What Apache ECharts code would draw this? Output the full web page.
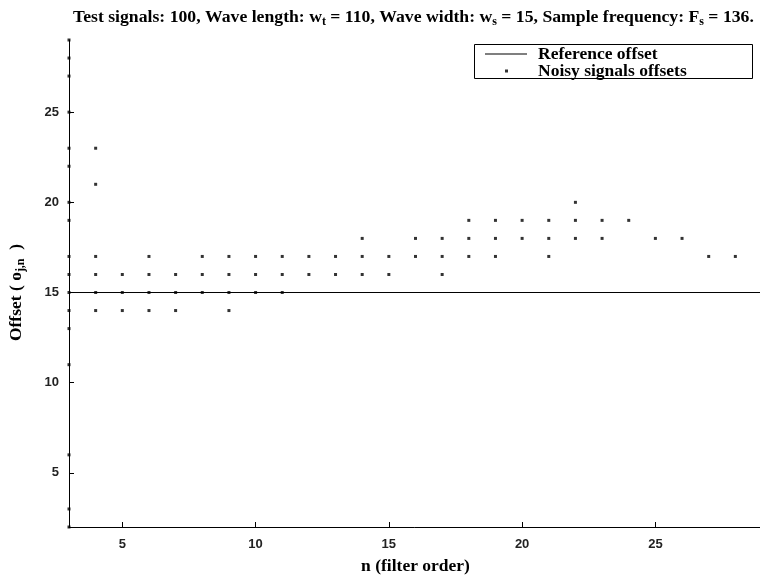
<!DOCTYPE html>
<html>
<head>
<meta charset="utf-8">
<script src="https://cdn.jsdelivr.net/npm/echarts@6/dist/echarts.min.js"></script>
<style>html,body{margin:0;padding:0;background:#fff}#c{width:760px;height:578px}</style>
</head>
<body>
<div id="c"></div>
<script>
// ---- data ----
const filterOrders = [3, 4, 5, 6, 7, 8, 9, 10, 11, 12, 13, 14, 15, 16, 17, 18, 19, 20, 21, 22, 23, 24, 25, 26, 27, 28];
const offsetsByOrder = [
  [29, 28, 27, 25, 23, 22, 20, 19, 17, 16, 15, 14, 13, 11, 6, 3, 2], // n=3
  [23, 21, 17, 16, 15, 14], // 4
  [16, 15, 14],             // 5
  [17, 16, 15, 14],         // 6
  [16, 15, 14],             // 7
  [17, 16, 15],             // 8
  [17, 16, 15, 14],         // 9
  [17, 16, 15],             // 10
  [17, 16, 15],             // 11
  [17, 16],                 // 12
  [17, 16],                 // 13
  [18, 17, 16],             // 14
  [17, 16],                 // 15
  [18, 17],                 // 16
  [18, 17, 16],             // 17
  [19, 18, 17],             // 18
  [19, 18, 17],             // 19
  [19, 18],                 // 20
  [19, 18, 17],             // 21
  [20, 19, 18],             // 22
  [19, 18],                 // 23
  [19],                     // 24
  [18],                     // 25
  [18],                     // 26
  [17],                     // 27
  [17]                      // 28
];
const referenceX = [3, 29];
const referenceY = [15, 15];
const xTicks = [5, 10, 15, 20, 25];
const yTicks = [5, 10, 15, 20, 25];

const noisyPoints = [];
filterOrders.forEach((n, i) => offsetsByOrder[i].forEach(v => noisyPoints.push([n, v])));
const refPoints = referenceX.map((x, i) => [x, referenceY[i]]);

const SERIF = "'Liberation Serif', 'Times New Roman', serif";
const SANS = "'Liberation Sans', Arial, sans-serif";
const subStyle = { fontFamily: SERIF, fontWeight: 'bold', fontSize: 12, color: '#000', lineHeight: 12, verticalAlign: 'bottom' };

const chart = echarts.init(document.getElementById('c'), null, { renderer: 'canvas' });
chart.setOption({
  animation: false,
  backgroundColor: '#fff',
  title: {
    text: 'Test signals: 100, Wave length: w{sub|t} = 110, Wave width: w{sub|s} = 15, Sample frequency: F{sub|s} = 136.',
    left: 73,
    top: 6,
    padding: 0,
    textStyle: {
      fontFamily: SERIF, fontWeight: 'bold', fontSize: 17.7, color: '#000', lineHeight: 22,
      rich: { sub: subStyle }
    }
  },
  legend: [
    {
      data: [{ name: 'Reference offset', icon: 'rect' }],
      left: 485, top: 45, padding: 0,
      itemWidth: 42, itemHeight: 1,
      textStyle: { fontFamily: SERIF, fontWeight: 'bold', fontSize: 17.5, color: '#000', lineHeight: 17, padding: [0, 0, 0, 6] }
    },
    {
      data: ['Noisy signals offsets'],
      left: 505, top: 62, padding: 0,
      itemWidth: 3, itemHeight: 3,
      textStyle: { fontFamily: SERIF, fontWeight: 'bold', fontSize: 17.5, color: '#000', lineHeight: 17, padding: [0, 0, 0, 25] }
    }
  ],
  graphic: [{
    type: 'rect', silent: true, z: 10,
    shape: { x: 474.5, y: 44.5, width: 278, height: 34 },
    style: { fill: 'none', stroke: '#000', lineWidth: 1 }
  }],
  grid: { left: 69, top: 40, width: 693, height: 487, containLabel: false, outerBoundsMode: 'none' },
  xAxis: {
    type: 'value', min: 3, max: 29,
    name: 'n (filter order)', nameLocation: 'middle', nameGap: 30,
    nameTextStyle: { fontFamily: SERIF, fontWeight: 'bold', fontSize: 17.5, color: '#000', lineHeight: 18 },
    axisLine: { show: true, onZero: false, lineStyle: { color: '#000', width: 1 } },
    axisTick: { show: true, inside: true, length: 5, customValues: xTicks, lineStyle: { color: '#000' } },
    axisLabel: { customValues: xTicks, margin: 11, fontFamily: SANS, fontSize: 13, fontWeight: 'bold', color: '#222' },
    splitLine: { show: false }
  },
  yAxis: {
    type: 'value', min: 2, max: 29,
    name: 'Offset ( o{sub|j,n}  )', nameLocation: 'middle', nameGap: 42,
    nameTextStyle: {
      fontFamily: SERIF, fontWeight: 'bold', fontSize: 17.5, color: '#000', lineHeight: 22,
      padding: [0, 18, 0, 0],
      rich: { sub: subStyle }
    },
    axisLine: { show: true, onZero: false, lineStyle: { color: '#000', width: 1 } },
    axisTick: { show: true, inside: true, length: 5, customValues: yTicks, lineStyle: { color: '#000' } },
    axisLabel: { customValues: yTicks, margin: 10, fontFamily: SANS, fontSize: 13, fontWeight: 'bold', color: '#222' },
    splitLine: { show: false }
  },
  series: [
    {
      name: 'Reference offset', type: 'line', data: refPoints,
      symbol: 'none', lineStyle: { color: '#000', width: 1 }, itemStyle: { color: '#000' }, z: 3
    },
    {
      name: 'Noisy signals offsets', type: 'scatter', data: noisyPoints,
      symbol: 'rect', symbolSize: 3, itemStyle: { color: '#000' }, clip: false, z: 4
    }
  ]
});
</script>
</body>
</html>
